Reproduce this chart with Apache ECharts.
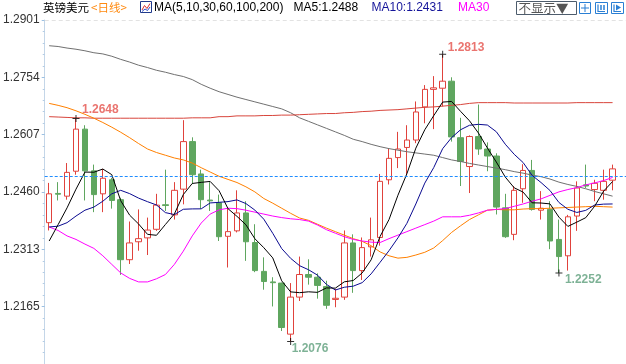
<!DOCTYPE html>
<html><head><meta charset="utf-8">
<script src="https://cdn.jsdelivr.net/npm/echarts@6/dist/echarts.min.js"></script>
<style>html,body{margin:0;padding:0;overflow:hidden;background:#fff}#c{width:626px;height:364px}</style>
</head><body><div id="c"></div>
<script>
// ---------- data ----------
const categories = Array.from({length: 65}, (_, i) => 'D' + (i + 1)); // last band is an empty margin
const opens = [1.2381,1.2456,1.2449,1.2513,1.2621,1.2514,1.2455,1.2491,1.2440,1.2286,
1.2332,1.2342,1.2364,1.2427,1.2401,1.2467,1.2589,1.2506,1.2439,1.2432,
1.2346,1.2360,1.2406,1.2330,1.2256,1.2229,1.2226,1.2095,1.2190,1.2248,
1.2241,1.2217,1.2184,1.2190,1.2329,1.2258,1.2319,1.2343,1.2491,1.2548,
1.2574,1.2593,1.2678,1.2723,1.2726,1.2744,1.2599,1.2525,1.2602,1.2570,
1.2552,1.2419,1.2351,1.2468,1.2515,1.2413,1.2415,1.2338,1.2296,1.2398,
1.2478,1.2466,1.2464,1.2490];
const closes = [1.2455,1.2454,1.2510,1.2621,1.2514,1.2453,1.2495,1.2438,1.2286,1.2329,
1.2340,1.2362,1.2426,1.2425,1.2464,1.2589,1.2504,1.2440,1.2437,1.2345,
1.2358,1.2406,1.2332,1.2258,1.2230,1.2227,1.2112,1.2190,1.2248,1.2241,
1.2220,1.2169,1.2187,1.2329,1.2258,1.2317,1.2337,1.2487,1.2546,1.2570,
1.2593,1.2665,1.2723,1.2727,1.2744,1.2601,1.2538,1.2602,1.2570,1.2552,
1.2421,1.2345,1.2464,1.2515,1.2415,1.2418,1.2334,1.2294,1.2396,1.2470,
1.2475,1.2482,1.2487,1.2519];
const lows = [1.2361,1.2438,1.2440,1.2504,1.2438,1.2408,1.2408,1.2417,1.2247,1.2275,
1.2309,1.2298,1.2360,1.2411,1.2389,1.2428,1.2480,1.2417,1.2411,1.2334,
1.2266,1.2356,1.2283,1.2254,1.2209,1.2166,1.2103,1.2076,1.2180,1.2222,
1.2186,1.2160,1.2164,1.2183,1.2201,1.2234,1.2294,1.2322,1.2479,1.2521,
1.2504,1.2585,1.2636,1.2621,1.2679,1.2589,1.2475,1.2457,1.2555,1.2513,
1.2402,1.2342,1.2336,1.2432,1.2412,1.2389,1.2313,1.2252,1.2258,1.2360,
1.2470,1.2436,1.2440,1.2464];
const highs = [1.2483,1.2485,1.2534,1.2648,1.2631,1.2530,1.2519,1.2496,1.2445,1.2384,
1.2415,1.2394,1.2455,1.2517,1.2485,1.2644,1.2600,1.2517,1.2485,1.2453,
1.2419,1.2464,1.2436,1.2377,1.2292,1.2241,1.2227,1.2226,1.2294,1.2287,
1.2251,1.2232,1.2211,1.2361,1.2351,1.2343,1.2394,1.2506,1.2570,1.2614,
1.2631,1.2692,1.2734,1.2757,1.2813,1.2754,1.2650,1.2605,1.2684,1.2587,
1.2559,1.2455,1.2475,1.2531,1.2542,1.2462,1.2436,1.2389,1.2401,1.2487,
1.2530,1.2491,1.2517,1.2530];
// averages before the visible window can't be computed ->
const ma5Head = [1.2334,1.2376,1.2419,1.2467];
const ma10Head = [1.2370,1.2372,1.2381,1.2398,1.2413,1.2421,1.2436,1.2455,1.2464];
const ma30 = [1.2370,1.2361,1.2347,1.2338,1.2326,1.2315,1.2296,1.2274,1.2252,1.2238,
1.2229,1.2229,1.2237,1.2248,1.2274,1.2308,1.2347,1.2380,1.2403,1.2414,
1.2418,1.2417,1.2413,1.2408,1.2403,1.2398,1.2394,1.2391,1.2389,1.2385,
1.2375,1.2363,1.2354,1.2345,1.2338,1.2334,1.2331,1.2330,1.2340,1.2349,
1.2358,1.2367,1.2376,1.2385,1.2396,1.2396,1.2396,1.2400,1.2406,1.2413,
1.2415,1.2417,1.2423,1.2429,1.2436,1.2442,1.2451,1.2460,1.2466,1.2471,
1.2478,1.2483,1.2489,1.2497];
const ma60 = [1.2687,1.2682,1.2676,1.2668,1.2659,1.2649,1.2638,1.2626,1.2613,1.2599,
1.2584,1.2570,1.2561,1.2554,1.2547,1.2542,1.2534,1.2522,1.2511,1.2500,
1.2492,1.2484,1.2473,1.2460,1.2443,1.2431,1.2418,1.2405,1.2393,1.2387,
1.2377,1.2367,1.2358,1.2349,1.2340,1.2333,1.2322,1.2306,1.2296,1.2290,
1.2292,1.2298,1.2305,1.2316,1.2335,1.2356,1.2373,1.2389,1.2401,1.2413,
1.2415,1.2414,1.2414,1.2416,1.2417,1.2417,1.2418,1.2419,1.2420,1.2421,
1.2422,1.2423,1.2422,1.2421];
const ma100 = [1.2653,1.2652,1.2651,1.2650,1.2650,1.2649,1.2649,1.2649,1.2649,1.2649,
1.2649,1.2649,1.2649,1.2649,1.2649,1.2649,1.2650,1.2650,1.2650,1.2653,
1.2653,1.2655,1.2655,1.2655,1.2656,1.2656,1.2657,1.2657,1.2658,1.2659,
1.2660,1.2661,1.2661,1.2663,1.2664,1.2666,1.2667,1.2669,1.2670,1.2671,
1.2673,1.2675,1.2677,1.2678,1.2680,1.2682,1.2684,1.2687,1.2689,1.2689,
1.2689,1.2689,1.2688,1.2688,1.2688,1.2688,1.2688,1.2688,1.2688,1.2689,
1.2689,1.2689,1.2689,1.2689];
const ma200 = [1.2835,1.2833,1.2829,1.2826,1.2822,1.2817,1.2814,1.2808,1.2800,1.2793,
1.2785,1.2779,1.2772,1.2767,1.2761,1.2756,1.2748,1.2736,1.2726,1.2717,
1.2710,1.2703,1.2697,1.2691,1.2685,1.2679,1.2673,1.2663,1.2650,1.2641,
1.2632,1.2623,1.2614,1.2605,1.2595,1.2589,1.2582,1.2576,1.2571,1.2567,
1.2563,1.2560,1.2557,1.2554,1.2548,1.2542,1.2538,1.2533,1.2529,1.2525,
1.2521,1.2517,1.2512,1.2508,1.2503,1.2499,1.2493,1.2485,1.2479,1.2474,
1.2468,1.2461,1.2455,1.2449];
const yTickTop = 1.2901;      // top tick label
const yTickStep = 0.0147105;  // spacing of tick labels
const markHighIdx = [3, 44];
const markLowIdx = [27, 57];
const titleTexts = ['英镑美元', '<日线>', 'MA(5,10,30,60,100,200)', 'MA5:1.2488', 'MA10:1.2431', 'MA30'];

// ---------- helpers ----------
function movingAvg(n, head) {
  return closes.map((c, i) => {
    if (i < head.length) return head[i];
    let s = 0; for (let k = i - n + 1; k <= i; k++) s += closes[k];
    return +(s / n).toFixed(5);
  });
}
const ma5 = movingAvg(5, ma5Head);
const ma10 = movingAvg(10, ma10Head);
const candles = opens.map((o, i) => [o, closes[i], lows[i], highs[i]]);

const RED = '#e0423c', GREEN = '#5fa65f';
const FONT = '"Liberation Sans", Arial, sans-serif';
const CJK = '"Noto Sans CJK SC", sans-serif';

function line(name, data, color) {
  return { name, type: 'line', data, showSymbol: false, symbol: 'none', z: 3,
    lineStyle: { color, width: 1 }, silent: true };
}
const plusPath = 'path://M0,3L7,3L7,4L0,4ZM3,0L4,0L4,7L3,7Z';
const highLabelPos = [[9.5, -5.5], [8.5, -3.5]];
const lowLabelPos = [[4.5, 10.5], [9.5, 10.5]];

const chart = echarts.init(document.getElementById('c'), null, { renderer: 'canvas' });
chart.setOption({
  animation: false,
  backgroundColor: '#fff',
  grid: { left: 41, top: 20, width: 585, height: 347.4 },
  xAxis: { type: 'category', data: categories, boundaryGap: true, show: false },
  yAxis: {
    type: 'value', min: yTickTop - 6 * yTickStep, max: yTickTop, interval: yTickStep,
    axisLine: { show: true, lineStyle: { color: '#c4d6e8' } },
    axisTick: { show: true, length: 3, lineStyle: { color: '#9cc0e2' } },
    minorTick: { show: true, splitNumber: 5, length: 2, lineStyle: { color: '#b4cce4' } },
    splitLine: { show: false },
    axisLabel: { margin: 5, color: '#333', fontSize: 12, fontFamily: FONT,
      showMinLabel: false, formatter: v => v.toFixed(4) }
  },
  series: [
    { type: 'candlestick', data: candles, barWidth: 6, z: 2,
      itemStyle: { color: '#fff', color0: GREEN, borderColor: RED, borderColor0: GREEN, borderWidth: 1 },
      markLine: { symbol: 'none', silent: true, label: { show: false },
        data: [
          { yAxis: closes[closes.length - 1], lineStyle: { color: '#1e8cff', type: [3, 2], width: 1 } },
          { yAxis: yTickTop, lineStyle: { color: '#e2e2e2', type: [4, 3], width: 1 } }
        ] }
    },
    line('MA200', ma200, '#707070'),
    line('MA100', ma100, '#d8453c'),
    line('MA60', ma60, '#ff8000'),
    line('MA30', ma30, '#ff00ff'),
    line('MA10', ma10, '#0a0a90'),
    line('MA5', ma5, '#000000'),
    { type: 'scatter', symbol: plusPath, symbolSize: 7, z: 5, silent: true,
      itemStyle: { color: '#000' },
      data: markHighIdx.map((i, k) => ({ value: [i, highs[i]],
        label: { show: true, position: highLabelPos[k], verticalAlign: 'middle', align: 'left',
          formatter: p => p.value[1].toFixed(4), color: '#e5514b', fontWeight: 'bold', fontSize: 12, fontFamily: FONT } })) },
    { type: 'scatter', symbol: plusPath, symbolSize: 7, z: 5, silent: true,
      itemStyle: { color: '#000' },
      data: markLowIdx.map((i, k) => ({ value: [i, lows[i]],
        label: { show: true, position: lowLabelPos[k], verticalAlign: 'middle', align: 'left',
          formatter: p => p.value[1].toFixed(4), color: '#5e9f7c', fontWeight: 'bold', fontSize: 12, fontFamily: FONT } })) }
  ],
  graphic: [
    { type: 'text', style: { text: titleTexts[0], x: 43, y: 8, fill: '#000', font: '11.5px ' + CJK, verticalAlign: 'middle', textVerticalAlign: 'middle' } },
    { type: 'text', style: { text: titleTexts[1], x: 91, y: 8, fill: '#ff8a10', font: '11.5px ' + CJK, verticalAlign: 'middle', textVerticalAlign: 'middle' } },
    { type: 'rect', shape: { x: 140.5, y: 1.5, width: 11, height: 11 }, style: { fill: '#fff', stroke: '#203a8c', lineWidth: 1 } },
    { type: 'polyline', shape: { points: [[142, 10], [144.5, 5.5], [147, 8.5], [150, 3.5]] }, style: { stroke: '#d83030', lineWidth: 1, fill: null } },
    { type: 'polyline', shape: { points: [[142, 11.5], [145, 9], [147.5, 10.5], [150, 7]] }, style: { stroke: '#3050c8', lineWidth: 1, fill: null } },
    { type: 'text', style: { text: titleTexts[2], x: 154, y: 8, fill: '#000', font: '12px ' + FONT, verticalAlign: 'middle', textVerticalAlign: 'middle' } },
    { type: 'text', style: { text: titleTexts[3], x: 293.5, y: 8, fill: '#000', font: '12px ' + FONT, verticalAlign: 'middle', textVerticalAlign: 'middle' } },
    { type: 'text', style: { text: titleTexts[4], x: 371.5, y: 8, fill: '#14149a', font: '12px ' + FONT, verticalAlign: 'middle', textVerticalAlign: 'middle' } },
    { type: 'text', style: { text: titleTexts[5], x: 458, y: 8, fill: '#ff00ff', font: '12px ' + FONT, verticalAlign: 'middle', textVerticalAlign: 'middle' } },
    // top-right button and icons
    { type: 'rect', shape: { x: 516.5, y: 1.5, width: 60, height: 13 }, style: { fill: '#fff', stroke: '#4d5c6c', lineWidth: 1 } },
    { type: 'text', style: { text: '不显示▼', x: 518.5, y: 8.5, fill: '#555', font: '12.5px ' + CJK, verticalAlign: 'middle', textVerticalAlign: 'middle' } },
    { type: 'rect', shape: { x: 579.5, y: 2.5, width: 11, height: 11 }, style: { fill: '#fff', stroke: '#2a7fd4', lineWidth: 1 } },
    { type: 'polyline', shape: { points: [[585, 4], [585, 12]] }, style: { stroke: '#2a7fd4', lineWidth: 1 } },
    { type: 'polyline', shape: { points: [[581, 8], [589, 8]] }, style: { stroke: '#2a7fd4', lineWidth: 1 } },
    { type: 'rect', shape: { x: 595.5, y: 2.5, width: 12, height: 11 }, style: { fill: '#fff', stroke: '#2a7fd4', lineWidth: 1 } },
    { type: 'polyline', shape: { points: [[598, 4.5], [598, 11.5], [605, 11.5]] }, style: { stroke: '#2a7fd4', lineWidth: 1.2, fill: null } },
    { type: 'polyline', shape: { points: [[601, 5], [601, 10]] }, style: { stroke: '#2a7fd4', lineWidth: 1.5 } },
    { type: 'polyline', shape: { points: [[604, 5], [604, 10]] }, style: { stroke: '#2a7fd4', lineWidth: 1.5 } },
    { type: 'rect', shape: { x: 611.5, y: 2.5, width: 12, height: 11 }, style: { fill: '#fff', stroke: '#2a7fd4', lineWidth: 1 } },
    { type: 'polyline', shape: { points: [[614, 4.5], [614, 11.5], [621, 11.5]] }, style: { stroke: '#2a7fd4', lineWidth: 1.2, fill: null } },
    { type: 'polygon', shape: { points: [[616, 4.5], [621, 7.5], [616, 10.5]] }, style: { fill: '#2a7fd4' } }
  ]
});
</script>
</body></html>
